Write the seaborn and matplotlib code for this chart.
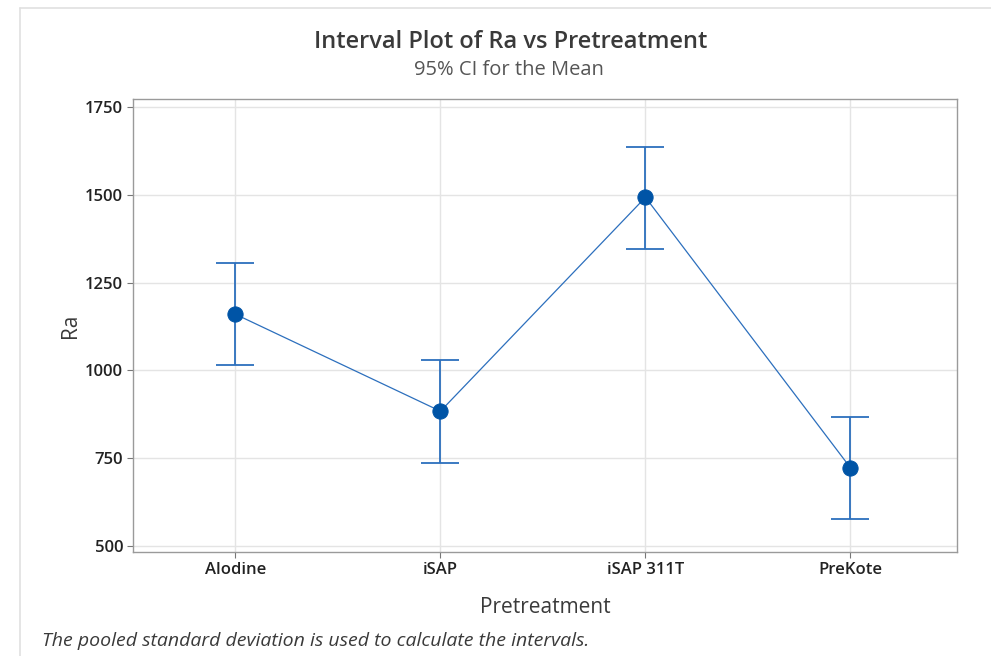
import seaborn as sns
import matplotlib.pyplot as plt
import pandas as pd
from matplotlib.lines import Line2D

# data
pretreatments = ["Alodine", "iSAP", "iSAP 311T", "PreKote"]
ra_mean = [1160, 884, 1493, 723]
ci_lower = [1015, 737, 1347, 576]
ci_upper = [1306, 1029, 1637, 868]

sns.set_theme(style="white")
plt.rcParams["font.family"] = ["Open Sans", "DejaVu Sans"]

df = pd.DataFrame({"Pretreatment": pretreatments, "Ra": ra_mean})

text_col = "#3a3a3a"
mark_col = "#0054a6"
line_col = "#2c6fbd"

fig = plt.figure(figsize=(9.91, 6.56), dpi=100)
ax = fig.add_axes([0.1342, 0.1585, 0.8315, 0.6906])

sns.pointplot(
    data=df,
    x="Pretreatment",
    y="Ra",
    errorbar=None,
    color=mark_col,
    markers="o",
    markersize=11,
    linewidth=0.9,
    ax=ax,
    zorder=4,
)
# connecting line in a lighter blue
for ln in ax.lines:
    ln.set_color(line_col)
    ln.set_markerfacecolor(mark_col)
    ln.set_markeredgecolor(mark_col)

ax.errorbar(
    x=range(len(pretreatments)),
    y=ra_mean,
    yerr=[
        [m - lo for m, lo in zip(ra_mean, ci_lower)],
        [hi - m for m, hi in zip(ra_mean, ci_upper)],
    ],
    fmt="none",
    ecolor=line_col,
    elinewidth=1.3,
    capsize=14,
    capthick=1.3,
    zorder=3,
)

ax.set_xlim(-0.5, 3.52)
ax.set_ylim(483, 1773)
ax.set_yticks([500, 750, 1000, 1250, 1500, 1750])

ax.grid(True, color="#e4e4e4", linewidth=1)
ax.set_axisbelow(True)
for sp in ax.spines.values():
    sp.set_color("#9a9a9a")
    sp.set_linewidth(1)

ax.tick_params(
    axis="both", direction="out", length=4, width=0.8, color="#777777",
    labelsize=12, labelcolor="#222222", bottom=True, left=True, pad=3,
)
for lbl in ax.get_xticklabels() + ax.get_yticklabels():
    lbl.set_fontweight("semibold")

ax.set_xlabel("Pretreatment", fontsize=15, color=text_col, labelpad=14)
ax.set_ylabel("Ra", fontsize=15, color=text_col, labelpad=3)

fig.text(0.5151, 0.936, "Interval Plot of Ra vs Pretreatment", ha="center",
         va="center", fontsize=17, fontweight="semibold", color=text_col)
fig.text(0.514, 0.893, "95% CI for the Mean", ha="center", va="center",
         fontsize=14.5, color="#555555")
fig.text(0.042, 0.023, "The pooled standard deviation is used to calculate the intervals.",
         ha="left", va="center", fontsize=14, style="italic", color=text_col)

# light outer frame of the output panel
fig.add_artist(Line2D([0.0202, 1.0], [0.988, 0.988], color="#e0e0e0", lw=1.2))
fig.add_artist(Line2D([0.0202, 0.0202], [0.0, 0.988], color="#e0e0e0", lw=1.2))

fig.savefig("out.png", dpi=100, facecolor="white")
